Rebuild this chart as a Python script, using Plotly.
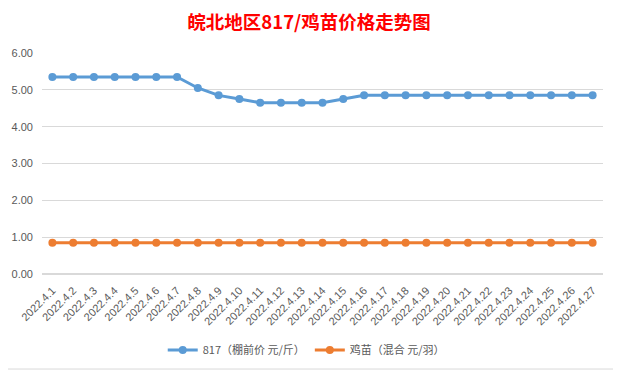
import plotly.graph_objects as go

dates = [f"2022.4.{d}" for d in range(1, 28)]
price_817 = [5.35, 5.35, 5.35, 5.35, 5.35, 5.35, 5.35, 5.05, 4.85, 4.75,
             4.65, 4.65, 4.65, 4.65, 4.75, 4.85, 4.85, 4.85, 4.85, 4.85,
             4.85, 4.85, 4.85, 4.85, 4.85, 4.85, 4.85]
price_chick = [0.85] * 27
y_ticks = [0, 1, 2, 3, 4, 5, 6]

fig = go.Figure()
fig.add_trace(go.Scatter(x=dates, y=price_817, mode="lines+markers",
                         name="817（棚前价 元/斤）",
                         line=dict(color="#5b9bd5", width=3),
                         marker=dict(color="#5b9bd5", size=8)))
fig.add_trace(go.Scatter(x=dates, y=price_chick, mode="lines+markers",
                         name="鸡苗（混合 元/羽）",
                         line=dict(color="#ed7d31", width=3),
                         marker=dict(color="#ed7d31", size=8)))

fig.update_layout(
    width=621, height=372,
    margin=dict(l=34, r=26, t=45, b=106, autoexpand=False),
    paper_bgcolor="white", plot_bgcolor="white",
    font=dict(family="Noto Sans CJK SC, Noto Sans, sans-serif", color="#595959", size=11),
    title=dict(text="<b>皖北地区817/鸡苗价格走势图</b>", x=0.476, xanchor="center",
               xref="paper", y=0.96, yanchor="middle",
               font=dict(size=18.5, color="#ff0000", family="Noto Sans CJK SC")),
    showlegend=True,
    legend=dict(orientation="h", x=0.471, xanchor="center", y=-0.344, yanchor="middle",
                font=dict(size=11, color="#595959"), itemwidth=30),
    xaxis=dict(type="category", range=[-0.5, 26.5], tickangle=-45, automargin=False,
               showgrid=False, showline=False, ticks="", ticklabelstandoff=7,
               tickfont=dict(size=11, color="#595959", family="Liberation Sans, Arial")),
    yaxis=dict(range=[0, 6], tickvals=y_ticks, tickformat=".2f", automargin=False,
               showgrid=True, gridcolor="#d9d9d9", gridwidth=1,
               zeroline=True, zerolinecolor="#d9d9d9", showline=False, ticks="",
               ticklabelstandoff=8,
               tickfont=dict(size=11, color="#595959", family="Liberation Sans, Arial")),
    shapes=[dict(type="rect", xref="paper", yref="paper",
                 x0=-0.0695, x1=1.0285, y0=-0.43, y1=1.2308,
                 line=dict(color="#d9d9d9", width=1), fillcolor="rgba(0,0,0,0)",
                 layer="below")],
)

fig.write_html("out.html")
